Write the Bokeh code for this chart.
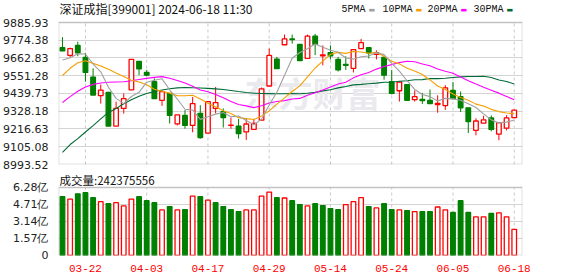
from bokeh.plotting import figure
from bokeh.models import Range1d, FixedTicker, Label, ColumnDataSource, BoxAnnotation
from bokeh.layouts import column
from bokeh.embed import file_html
from bokeh.resources import INLINE

# ---------------- data ----------------
dates = ["03-19", "03-20", "03-21", "03-22", "03-25", "03-26", "03-27", "03-28", "03-29",
         "04-01", "04-02", "04-03", "04-08", "04-09", "04-10", "04-11", "04-12", "04-15",
         "04-16", "04-17", "04-18", "04-19", "04-22", "04-23", "04-24", "04-25", "04-26",
         "04-29", "04-30", "05-06", "05-07", "05-08", "05-09", "05-10", "05-13", "05-14",
         "05-15", "05-16", "05-17", "05-20", "05-21", "05-22", "05-23", "05-24", "05-27",
         "05-28", "05-29", "05-30", "05-31", "06-03", "06-04", "06-05", "06-06", "06-07",
         "06-11", "06-12", "06-13", "06-14", "06-17", "06-18"]

opens = [9728, 9679, 9742, 9666, 9543, 9426, 9446, 9235, 9346, 9463,
         9642, 9572, 9514, 9397, 9440, 9249, 9302, 9239, 9315, 9191,
         9346, 9325, 9239, 9235, 9198, 9214, 9272, 9487, 9656, 9746,
         9783, 9748, 9660, 9800, 9677, 9697, 9654, 9623, 9598, 9722,
         9728, 9685, 9666, 9514, 9457, 9496, 9401, 9403, 9397, 9370,
         9364, 9459, 9420, 9350, 9208, 9253, 9286, 9185, 9222, 9288]
highs = [9794, 9728, 9765, 9695, 9598, 9496, 9446, 9389, 9440, 9654,
         9642, 9588, 9535, 9459, 9440, 9306, 9335, 9418, 9366, 9389,
         9481, 9346, 9288, 9280, 9280, 9280, 9477, 9722, 9670, 9810,
         9810, 9748, 9810, 9814, 9742, 9742, 9670, 9674, 9716, 9783,
         9732, 9711, 9674, 9588, 9512, 9496, 9459, 9444, 9465, 9428,
         9492, 9512, 9452, 9350, 9284, 9300, 9302, 9261, 9304, 9335]
lows = [9707, 9666, 9674, 9514, 9430, 9376, 9235, 9235, 9313, 9463,
        9555, 9547, 9407, 9362, 9251, 9239, 9218, 9196, 9156, 9191,
        9315, 9226, 9218, 9156, 9148, 9210, 9272, 9487, 9596, 9746,
        9753, 9646, 9660, 9681, 9617, 9654, 9578, 9588, 9572, 9722,
        9660, 9654, 9526, 9434, 9389, 9397, 9389, 9374, 9376, 9319,
        9337, 9403, 9323, 9191, 9177, 9253, 9202, 9146, 9208, 9284]
closes = [9707, 9722, 9695, 9572, 9430, 9461, 9235, 9346, 9407, 9654,
          9594, 9555, 9407, 9452, 9303, 9306, 9239, 9376, 9163, 9389,
          9383, 9288, 9241, 9187, 9248, 9252, 9469, 9679, 9596, 9783,
          9779, 9646, 9800, 9748, 9683, 9677, 9588, 9617, 9716, 9759,
          9695, 9697, 9555, 9440, 9512, 9397, 9420, 9395, 9376, 9378,
          9475, 9407, 9350, 9263, 9267, 9274, 9214, 9257, 9286, 9335]

# volume in 亿 (1e8 shares); colour: 1 = up (red, hollow), 0 = down (green)
volumes = [5.43, 5.21, 5.70, 5.80, 5.34, 4.97, 4.79, 4.88, 4.58, 5.21,
           5.43, 5.06, 4.88, 4.21, 4.52, 4.21, 4.24, 5.49, 5.43, 5.12,
           4.88, 4.52, 4.24, 4.06, 4.21, 4.21, 5.49, 5.86, 5.34, 5.31,
           5.06, 4.70, 4.58, 4.79, 4.61, 4.33, 4.24, 4.70, 4.97, 5.34,
           4.52, 4.39, 4.79, 4.24, 4.21, 4.15, 4.06, 4.06, 4.06, 4.48,
           4.21, 3.97, 5.06, 3.97, 3.57, 3.57, 3.88, 3.94, 3.57, 2.42]
vol_up = [0, 1, 0, 0, 0, 1, 0, 1, 1, 1,
          0, 0, 0, 1, 0, 1, 0, 1, 0, 1,
          0, 0, 0, 0, 1, 1, 1, 1, 0, 1,
          0, 0, 1, 0, 0, 0, 0, 1, 1, 1,
          0, 1, 0, 0, 1, 0, 1, 0, 0, 1,
          1, 0, 0, 0, 1, 1, 0, 1, 1, 1]

ma5 = [9650, 9664, 9690, 9688, 9625, 9576, 9479, 9409, 9376, 9421,
       9447, 9511, 9523, 9532, 9463, 9405, 9341, 9335, 9277, 9294,
       9310, 9320, 9293, 9298, 9270, 9243, 9279, 9367, 9448, 9554,
       9661, 9697, 9721, 9751, 9731, 9711, 9699, 9663, 9656, 9671,
       9675, 9697, 9684, 9629, 9580, 9520, 9465, 9433, 9420, 9393,
       9409, 9406, 9397, 9375, 9352, 9312, 9274, 9255, 9260, 9273]
ma10 = [9553, 9598, 9633, 9645, 9629, 9613, 9592, 9568, 9547, 9523,
        9512, 9495, 9466, 9454, 9442, 9426, 9426, 9429, 9405, 9378,
        9357, 9331, 9314, 9288, 9282, 9276, 9299, 9330, 9373, 9412,
        9452, 9488, 9544, 9600, 9643, 9686, 9698, 9692, 9704, 9701,
        9693, 9698, 9674, 9643, 9626, 9598, 9581, 9559, 9525, 9487,
        9465, 9436, 9415, 9397, 9373, 9361, 9340, 9326, 9317, 9313]
ma20 = [9383, 9420, 9454, 9481, 9497, 9506, 9510, 9512, 9514, 9520,
        9528, 9535, 9541, 9546, 9536, 9522, 9506, 9485, 9462, 9451,
        9434, 9413, 9390, 9371, 9362, 9351, 9363, 9380, 9389, 9395,
        9405, 9409, 9429, 9444, 9462, 9481, 9499, 9511, 9538, 9557,
        9572, 9593, 9609, 9621, 9634, 9642, 9639, 9625, 9614, 9594,
        9579, 9567, 9544, 9520, 9499, 9479, 9460, 9442, 9421, 9400]
ma30 = [9070, 9119, 9156, 9198, 9238, 9280, 9321, 9345, 9375, 9400,
        9422, 9440, 9452, 9462, 9470, 9475, 9477, 9476, 9474, 9472,
        9469, 9465, 9459, 9452, 9446, 9441, 9440, 9439, 9438, 9438,
        9440, 9438, 9441, 9447, 9456, 9463, 9475, 9484, 9494, 9497,
        9501, 9505, 9510, 9510, 9517, 9520, 9526, 9527, 9534, 9533,
        9536, 9540, 9544, 9547, 9547, 9548, 9540, 9525, 9515, 9500]

price_ticks = [8993.52, 9105.08, 9216.63, 9328.18, 9439.73, 9551.28, 9662.83, 9774.38, 9885.93]
vol_ticks = [0, 1.57, 3.14, 4.71, 6.28]
vol_tick_labels = ["0", "1.57亿", "3.14亿", "4.71亿", "6.28亿"]
date_tick_labels = ["03-22", "04-03", "04-17", "04-29", "05-14", "05-24", "06-05", "06-18"]

header_text = "深证成指[399001] 2024-06-18 11:30"
volume_text = "成交量:242375556"
ma_names = ["5PMA", "10PMA", "20PMA", "30PMA"]

# ---------------- styles / layout ----------------
RED = "#ff0000"
GREEN = "#008000"
MA_COLORS = ["#a0a0a0", "#f5a000", "#ff00ff", "#006b35"]
FRAME = "#999999"
GRID = "#d4d4d4"
VGRID = "#c8c8c8"

n = len(dates)
xs = list(range(n))
date_ticks = [dates.index(d) for d in date_tick_labels]
X0, X1 = -0.52, 60.08

# main chart: frame spans canvas rows 0..164, price box occupies rows 22..164
P_H, P_BOTTOM_PAD, P_TOP_GAP = 171, 7, 22
p_span = price_ticks[-1] - price_ticks[0]
p_box_px = P_H - P_BOTTOM_PAD - P_TOP_GAP
p_top = price_ticks[-1] + p_span * P_TOP_GAP / p_box_px

# volume chart: frame spans canvas rows 0..84, volume box occupies rows 16..84
V_H, V_BOTTOM_PAD, V_TOP_GAP = 105, 21, 16
v_box_px = V_H - V_BOTTOM_PAD - V_TOP_GAP
v_top = vol_ticks[-1] + vol_ticks[-1] * V_TOP_GAP / v_box_px

up = [c >= o for o, c in zip(opens, closes)]
src = ColumnDataSource(dict(
    x=xs,
    top=[max(o, c) for o, c in zip(opens, closes)],
    bottom=[min(o, c) for o, c in zip(opens, closes)],
    high=highs, low=lows,
    line=[RED if u else GREEN for u in up],
    fill=["white" if u else GREEN for u in up],
))
vsrc = ColumnDataSource(dict(
    x=xs, top=volumes,
    line=[RED if u else GREEN for u in vol_up],
    fill=["white" if u else GREEN for u in vol_up],
))

xr = Range1d(X0, X1)


def style_common(p):
    p.title = None
    p.background_fill_color = "white"
    p.border_fill_color = "white"
    p.outline_line_color = None
    p.xgrid.grid_line_color = None
    p.ygrid.grid_line_color = GRID
    for ax in (p.xaxis, p.yaxis):
        ax.axis_line_color = None
        ax.major_tick_line_color = None
        ax.minor_tick_line_color = None
    p.yaxis.major_label_standoff = 4
    p.yaxis.major_label_text_font = "DejaVu Sans"
    p.yaxis.major_label_text_font_size = "11px"
    p.yaxis.major_label_text_color = "#222222"


# ---------------- main candlestick chart ----------------
p1 = figure(width=578, height=P_H, x_range=xr, y_range=Range1d(price_ticks[0], p_top),
            output_backend="svg", toolbar_location=None,
            min_border_left=56, min_border_right=56, min_border_top=0,
            min_border_bottom=P_BOTTOM_PAD)
style_common(p1)
p1.xaxis.visible = False
p1.yaxis.ticker = FixedTicker(ticks=price_ticks)
p1.yaxis.major_label_overrides = {t: f"{t:.2f}" for t in price_ticks}
p1.ygrid.ticker = FixedTicker(ticks=price_ticks)

# watermark
p1.add_layout(Label(x=186, y=72, x_units="screen", y_units="screen", text="东方财富",
                    text_font="Noto Sans CJK SC", text_font_size="34px", text_font_style="bold",
                    text_color="#eaeaee", text_baseline="middle", level="underlay"))

# dashed vertical grid at the date ticks
p1.segment(x0=date_ticks, y0=price_ticks[0], x1=date_ticks, y1=price_ticks[-1],
           line_color=VGRID, line_dash="3 3", line_width=1, level="underlay")

p1.segment(x0="x", y0="low", x1="x", y1="high", line_color="line", line_width=1, source=src)
p1.vbar(x="x", top="top", bottom="bottom", width=0.6, fill_color="fill",
        line_color="line", line_width=1.3, source=src)

for vals, col in zip([ma30, ma20, ma10, ma5], MA_COLORS[::-1]):
    p1.line(xs, vals, line_color=col, line_width=1.1)

p1.add_layout(BoxAnnotation(left=X0, right=X1, bottom=price_ticks[0], top=price_ticks[-1],
                            fill_alpha=0, line_color=FRAME, line_width=2))

# header + legend (screen units from the frame's bottom-left)
p1.add_layout(Label(x=1, y=156, x_units="screen", y_units="screen", text=header_text,
                    text_font="Noto Sans CJK SC", text_font_size="12px", text_color="#111111",
                    text_baseline="middle"))
leg_text_x = [283, 324, 369, 415]
for name, col, lx in zip(ma_names, MA_COLORS, leg_text_x):
    p1.add_layout(Label(x=lx, y=155, x_units="screen", y_units="screen", text=name,
                        text_font="Liberation Mono", text_font_size="10px", text_color="#111111",
                        text_baseline="middle"))
    p1.add_layout(Label(x=lx + 6 * len(name) + 3, y=155, x_units="screen", y_units="screen",
                        text="▬", text_font="DejaVu Sans", text_font_size="7px", text_color=col,
                        text_baseline="middle"))

# ---------------- volume chart ----------------
p2 = figure(width=578, height=V_H, x_range=xr, y_range=Range1d(0, v_top),
            output_backend="svg", toolbar_location=None,
            min_border_left=56, min_border_right=56, min_border_top=0,
            min_border_bottom=V_BOTTOM_PAD)
style_common(p2)
p2.xaxis.ticker = FixedTicker(ticks=date_ticks)
p2.xaxis.major_label_overrides = {t: lab for t, lab in zip(date_ticks, date_tick_labels)}
p2.xaxis.major_label_standoff = 3
p2.xaxis.major_label_text_font = "Liberation Mono"
p2.xaxis.major_label_text_font_size = "11px"
p2.xaxis.major_label_text_color = RED
p2.yaxis.ticker = FixedTicker(ticks=vol_ticks)
p2.yaxis.major_label_overrides = {t: lab for t, lab in zip(vol_ticks, vol_tick_labels)}
p2.ygrid.ticker = FixedTicker(ticks=vol_ticks)

p2.segment(x0=date_ticks, y0=0, x1=date_ticks, y1=vol_ticks[-1],
           line_color=VGRID, line_dash="3 3", line_width=1, level="underlay")
p2.vbar(x="x", top="top", bottom=0, width=0.6, fill_color="fill", line_color="line",
        line_width=1.3, source=vsrc)
p2.add_layout(BoxAnnotation(left=X0, right=X1, bottom=0, top=vol_ticks[-1],
                            fill_alpha=0, line_color=FRAME, line_width=2))
p2.add_layout(Label(x=1, y=76, x_units="screen", y_units="screen", text=volume_text,
                    text_font="Noto Sans CJK SC", text_font_size="11.5px", text_color="#111111",
                    text_baseline="middle"))

layout = column(p1, p2, spacing=0)
open("out.html", "w").write(file_html(layout, INLINE))
